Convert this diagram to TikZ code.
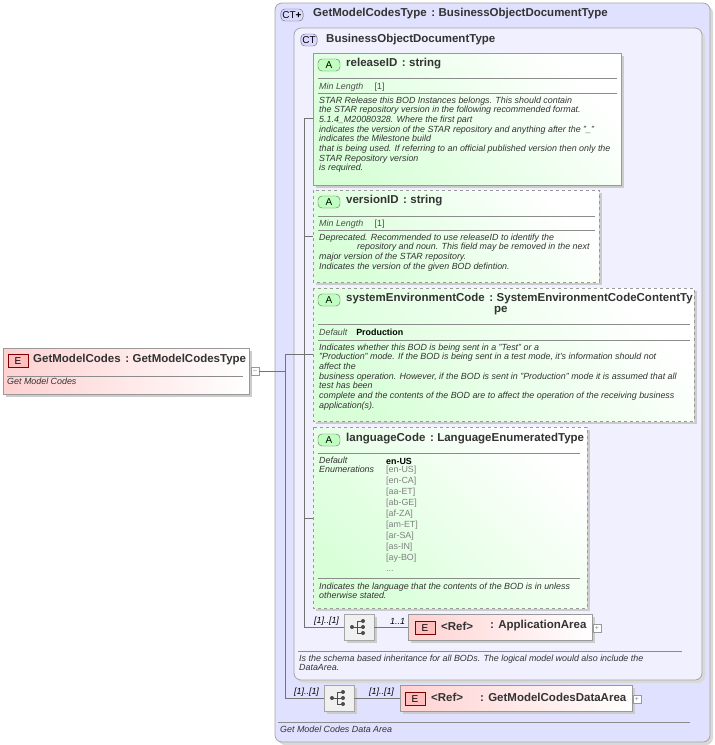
\documentclass[tikz,border=0pt]{standalone}
\usepackage{fontspec}
\setmainfont{Liberation Sans}
\newcommand{\cln}{\hspace{0.4em}:\hspace{0.3em}}
\begin{document}
\begin{tikzpicture}[x=1pt,y=-1pt,
  ctbox/.style={draw=black!35,rounded corners=7pt,line width=0.8pt},
  attr/.style={draw=black!40,line width=0.6pt,top color=green!15,bottom color=white,shading angle=135},
  attrd/.style={attr,dashed},
  elbox/.style={draw=black!40,line width=0.6pt,left color=red!18,right color=white},
  ttl/.style={anchor=west,inner sep=0,font=\fontsize{11.5}{13}\selectfont\bfseries,text=black!80},
  sm/.style={anchor=north west,inner sep=0,align=left,font=\fontsize{8.9}{9.65}\selectfont\itshape,text=black!80},
  smn/.style={anchor=west,inner sep=0,font=\fontsize{8.9}{9}\selectfont,text=black!70},
  sep/.style={draw=black!45,line width=0.5pt},
  con/.style={draw=black!55,line width=0.5pt},
  abadge/.style={draw=black!60,rounded corners=4pt,fill=green!25,minimum width=22pt,minimum height=12pt,inner sep=0,font=\fontsize{10}{10}\selectfont},
  ebadge/.style={draw=red!50!black,fill=red!25,minimum width=20pt,minimum height=13pt,inner sep=0,font=\fontsize{10}{10}\selectfont},
  ctbadge/.style={draw=black!60,rounded corners=4pt,fill=blue!15,minimum height=12pt,inner sep=1.5pt,font=\fontsize{10}{10}\selectfont},
  seqbox/.style={draw=black!35,fill=black!6,minimum width=30pt,minimum height=26pt,inner sep=0},
  pm/.style={draw=black!40,fill=white,minimum size=8pt,inner sep=0,font=\fontsize{7}{7}\selectfont,text=black!50},
  shd/.style={fill=black!20}]
\useasboundingbox (0,0) rectangle (715,745);
% outer CT
\fill[black!15,rounded corners=7pt] (278,6) rectangle (713,745);
\path[ctbox,fill=blue!12] (275,3) rectangle (710,742);
\node[ctbadge] (ctb1) at (292,15) {CT\textbf{+}};
\node[ttl] (t1) at (313,14) {GetModelCodesType\cln BusinessObjectDocumentType};
% inner CT
\fill[black!15,rounded corners=7pt] (297,31) rectangle (705,683);
\path[ctbox,fill=blue!6] (294,28) rectangle (702,680);
\node[ctbadge] (ctb2) at (309,40) {CT};
\node[ttl] (t2) at (326,40) {BusinessObjectDocumentType};
% releaseID
\fill[shd] (316,56) rectangle (624,188);
\path[attr] (313,53) rectangle (621,185);
\node[abadge] (a1) at (329,65) {A};
\node[ttl] at (346,64) {releaseID\cln string};
\draw[sep] (318,78) -- (617,78); \draw[sep] (318,93) -- (617,93);
\node[smn] at (319,87) {\itshape Min Length\quad\ \upshape [1]};
\node[sm] at (319,96.5) {STAR Release this BOD Instances belongs. This should contain\\the STAR repository version in the following recommended format.\\5.1.4\_M20080328. Where the first part\\indicates the version of the STAR repository and anything after the "\_"\\indicates the Milestone build\\that is being used. If referring to an official published version then only the\\STAR Repository version\\is required.};
% versionID
\fill[shd] (316,193) rectangle (602,285);
\path[attrd] (313,190) rectangle (599,282);
\node[abadge] at (329,202) {A};
\node[ttl] at (346,201) {versionID\cln string};
\draw[sep] (318,216) -- (595,216); \draw[sep] (318,230) -- (595,230);
\node[smn] at (319,224) {\itshape Min Length\quad\ \upshape [1]};
\node[sm] at (319,233.5) {Deprecated. Recommended to use releaseID to identify the\\\hspace*{38pt}repository and noun. This field may be removed in the next\\major version of the STAR repository.\\Indicates the version of the given BOD defintion.};
% systemEnvironmentCode
\fill[shd] (316,291) rectangle (697,424);
\path[attrd] (313,288) rectangle (694,421);
\node[abadge] at (329,300) {A};
\node[ttl] at (346,299) {systemEnvironmentCode\cln SystemEnvironmentCodeContentTy};
\node[ttl] at (494,311) {pe};
\draw[sep] (318,324) -- (690,324); \draw[sep] (318,340) -- (690,340);
\node[smn] at (319,332) {\itshape Default\quad \upshape\bfseries\color{black}Production};
\node[sm] at (319,343.5) {Indicates whether this BOD is being sent in a "Test" or a\\"Production" mode. If the BOD is being sent in a test mode, it's information should not\\affect the\\business operation. However, if the BOD is sent in "Production" mode it is assumed that all\\test has been\\complete and the contents of the BOD are to affect the operation of the receiving business\\application(s).};
% languageCode
\fill[shd] (316,430) rectangle (590,611);
\path[attrd] (313,427) rectangle (587,608);
\node[abadge] at (329,440) {A};
\node[ttl] at (346,439) {languageCode\cln LanguageEnumeratedType};
\draw[sep] (318,453) -- (580,453); \draw[sep] (318,578) -- (580,578);
\node[sm] at (319,456.5) {Default\\Enumerations};
\node[smn] at (386,461) {\bfseries\color{black}en-US};
\node[anchor=north west,inner sep=0,align=left,font=\fontsize{8.9}{11}\selectfont,text=black!50] at (386,466) {{[en-US]}\\{}[en-CA]\\{}[aa-ET]\\{}[ab-GE]\\{}[af-ZA]\\{}[am-ET]\\{}[ar-SA]\\{}[as-IN]\\{}[ay-BO]\\...};
\node[sm] at (319,582.5) {Indicates the language that the contents of the BOD is in unless\\otherwise stated.};
% sequence 1
\fill[shd] (347,617) rectangle (377,643);
\node[seqbox] (s1) at (359,627) {};
\fill[black!70] (352,627) circle (2pt);
\draw[black!70,line width=0.8pt] (353,627) -- (357,627) (357,621) -- (357,633) (357,621) -- (362,621) (357,627) -- (362,627) (357,633) -- (362,633);
\foreach \yy in {621,627,633} \fill[black!70] (363,\yy) circle (2pt);
\node[anchor=west,inner sep=0,font=\fontsize{8.9}{9}\selectfont\itshape] at (314,621) {[1]..[1]};
\node[anchor=west,inner sep=0,font=\fontsize{8.9}{9}\selectfont\itshape] at (390,621) {1..1};
\fill[shd] (411,617) rectangle (595,643);
\path[elbox] (408,614) rectangle (592,640);
\node[ebadge] (e1) at (425,628) {E};
\node[ttl] at (441,626) {<Ref>};
\node[ttl] at (490,626) {: ApplicationArea};
\node[pm] (p1) at (597,628) {+};
\draw[sep] (298,651) -- (682,651);
\node[sm] at (299,654.5) {Is the schema based inheritance for all BODs. The logical model would also include the\\DataArea.};
% sequence 2
\fill[shd] (327,688) rectangle (357,714);
\node[seqbox] (s2) at (339,698) {};
\fill[black!70] (332,698) circle (2pt);
\draw[black!70,line width=0.8pt] (333,698) -- (337,698) (337,692) -- (337,704) (337,692) -- (342,692) (337,698) -- (342,698) (337,704) -- (342,704);
\foreach \yy in {692,698,704} \fill[black!70] (343,\yy) circle (2pt);
\node[anchor=west,inner sep=0,font=\fontsize{8.9}{9}\selectfont\itshape] at (294,692) {[1]..[1]};
\node[anchor=west,inner sep=0,font=\fontsize{8.9}{9}\selectfont\itshape] at (369,692) {[1]..[1]};
\fill[shd] (403,688) rectangle (635,714);
\path[elbox] (400,685) rectangle (632,711);
\node[ebadge] (e2) at (415,699) {E};
\node[ttl] at (431,697) {<Ref>};
\node[ttl] at (480,697) {: GetModelCodesDataArea};
\node[pm] (p2) at (637,699) {+};
\draw[sep] (278,722) -- (690,722);
\node[sm] at (280,725.5) {Get Model Codes Data Area};
% left element
\fill[shd] (6,351) rectangle (252,397);
\path[elbox] (3,348) rectangle (249,394);
\node[ebadge] (e0) at (18,361) {E};
\node[ttl] at (33,360) {GetModelCodes\cln GetModelCodesType};
\draw[sep] (7,376) -- (243,376);
\node[sm] at (7,378) {Get Model Codes};
\node[pm] (p0) at (255,371) {--};
% connectors
\draw[con] (p0.east) -- (285,371);
\draw[con] (285,354) -- (285,698) -- (s2.west);
\draw[con] (285,354) -- (313,354);
\draw[con] (304,118) -- (304,627) -- (s1.west);
\draw[con] (304,118) -- (313,118);
\draw[con] (304,236) -- (313,236);
\draw[con] (304,518) -- (313,518);
\draw[con] (s1.east) -- (408,627);
\draw[con] (s2.east) -- (400,698);
\end{tikzpicture}
\end{document}
